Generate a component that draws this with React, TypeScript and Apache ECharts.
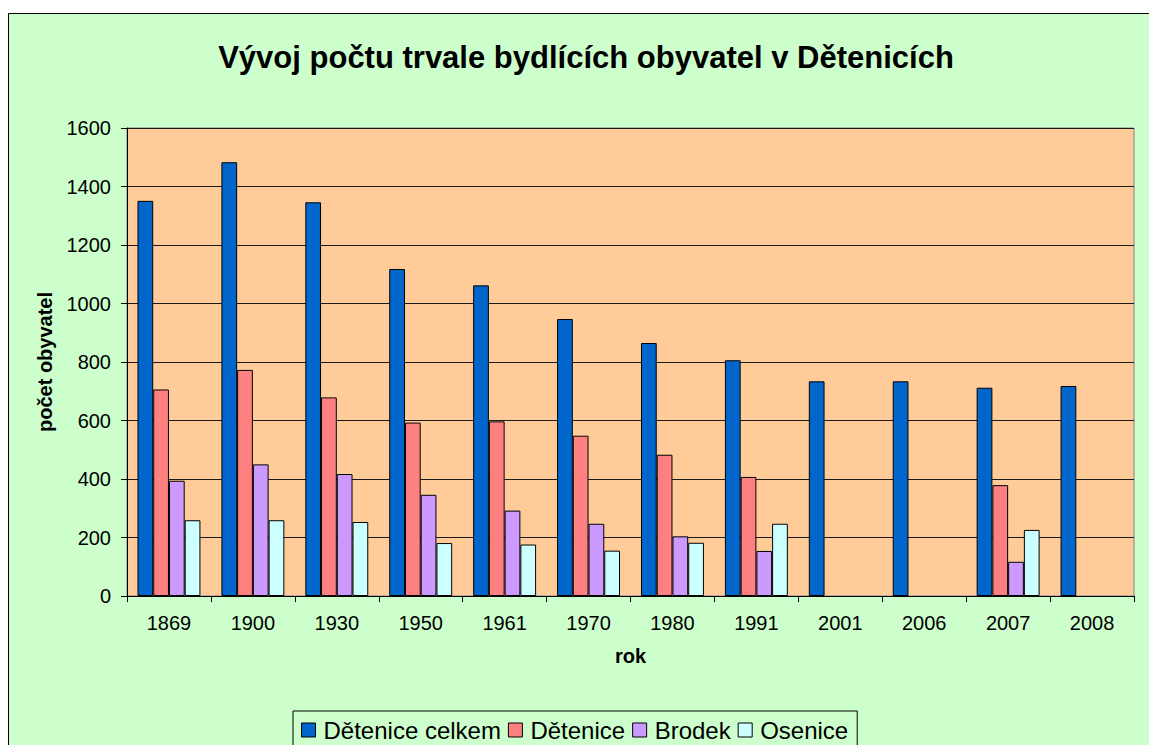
import React, { useEffect, useRef } from "react";
import * as echarts from "echarts";

const years = ["1869", "1900", "1930", "1950", "1961", "1970", "1980", "1991", "2001", "2006", "2007", "2008"];
const detCelkem = [1351, 1483, 1346, 1118, 1062, 947, 865, 806, 734, 734, 712, 718];
const detenice = [706, 773, 679, 593, 597, 548, 483, 407, null, null, 379, null];
const brodek = [394, 450, 417, 346, 292, 247, 204, 154, null, null, 117, null];
const osenice = [259, 259, 253, 181, 176, 155, 182, 247, null, null, 226, null];
const seriesNames = ["Dětenice celkem", "Dětenice", "Brodek", "Osenice"];
const seriesColors = ["#0066CC", "#FF8080", "#CC99FF", "#CCFFFF"];
const yTicks = { min: 0, max: 1600, interval: 200 };

const FONT = "Liberation Sans, Arial, sans-serif";

export default function App() {
  const ref = useRef<HTMLDivElement>(null);
  useEffect(() => {
    if (!ref.current) return;
    const chart = echarts.init(ref.current, null, { renderer: "svg" });
    const datas = [detCelkem, detenice, brodek, osenice];
    chart.setOption({
      animation: false,
      backgroundColor: "#FFFFFF",
      textStyle: { fontFamily: FONT },
      graphic: [
        {
          type: "rect",
          z: -10,
          shape: { x: 8.5, y: 13.5, width: 1200, height: 800 },
          style: { fill: "#CCFFCC", stroke: "#000000", lineWidth: 1 },
        },
      ],
      title: {
        text: "Vývoj počtu trvale bydlících obyvatel v Dětenicích",
        left: 581,
        textAlign: "center",
        top: 37,
        textStyle: { fontFamily: FONT, fontSize: 31, fontWeight: "bold", color: "#000" },
      },
      legend: {
        data: seriesNames,
        left: 293,
        top: 711,
        padding: [7, 9, 10, 8],
        itemGap: 7,
        itemWidth: 14,
        itemHeight: 14,
        borderColor: "#000",
        borderWidth: 1,
        backgroundColor: "#CCFFCC",
        icon: "rect",
        textStyle: { fontFamily: FONT, fontSize: 24, color: "#000", padding: [0, 0, 0, 3] },
        itemStyle: { borderColor: "#000", borderWidth: 1 },
      },
      grid: {
        show: true,
        left: 127,
        top: 128,
        width: 1007,
        height: 468,
        backgroundColor: "#FFCC99",
        borderColor: "#808080",
        borderWidth: 1,
      },
      xAxis: {
        type: "category",
        data: years,
        name: "rok",
        nameLocation: "middle",
        nameGap: 50,
        nameTextStyle: { fontFamily: FONT, fontSize: 20, fontWeight: "bold", color: "#000" },
        axisLine: { lineStyle: { color: "#000", width: 1 } },
        axisTick: { show: true, length: 6, lineStyle: { color: "#000" } },
        axisLabel: { fontFamily: FONT, fontSize: 20, color: "#000", margin: 17 },
      },
      yAxis: {
        type: "value",
        min: yTicks.min,
        max: yTicks.max,
        interval: yTicks.interval,
        name: "počet obyvatel",
        nameLocation: "middle",
        nameGap: 72,
        nameTextStyle: { fontFamily: FONT, fontSize: 20, fontWeight: "bold", color: "#000" },
        axisLine: { show: true, lineStyle: { color: "#000", width: 1 } },
        axisTick: { show: true, length: 6, lineStyle: { color: "#000" } },
        axisLabel: {
          fontFamily: FONT,
          fontSize: 20,
          color: "#000",
          margin: 16,
          formatter: (v: number) => String(v),
        },
        splitLine: { show: true, lineStyle: { color: "#1a1a1a", width: 1 } },
      },
      series: seriesNames.map((name, i) => ({
        name,
        type: "bar",
        data: datas[i],
        barGap: "0%",
        barCategoryGap: "25%",
        itemStyle: { color: seriesColors[i], borderColor: "#000", borderWidth: 1 },
      })),
    });
    return () => chart.dispose();
  }, []);
  return (
    <div
      ref={ref}
      style={{ position: "absolute", left: 0, top: 0, width: 1149, height: 745 }}
    />
  );
}
